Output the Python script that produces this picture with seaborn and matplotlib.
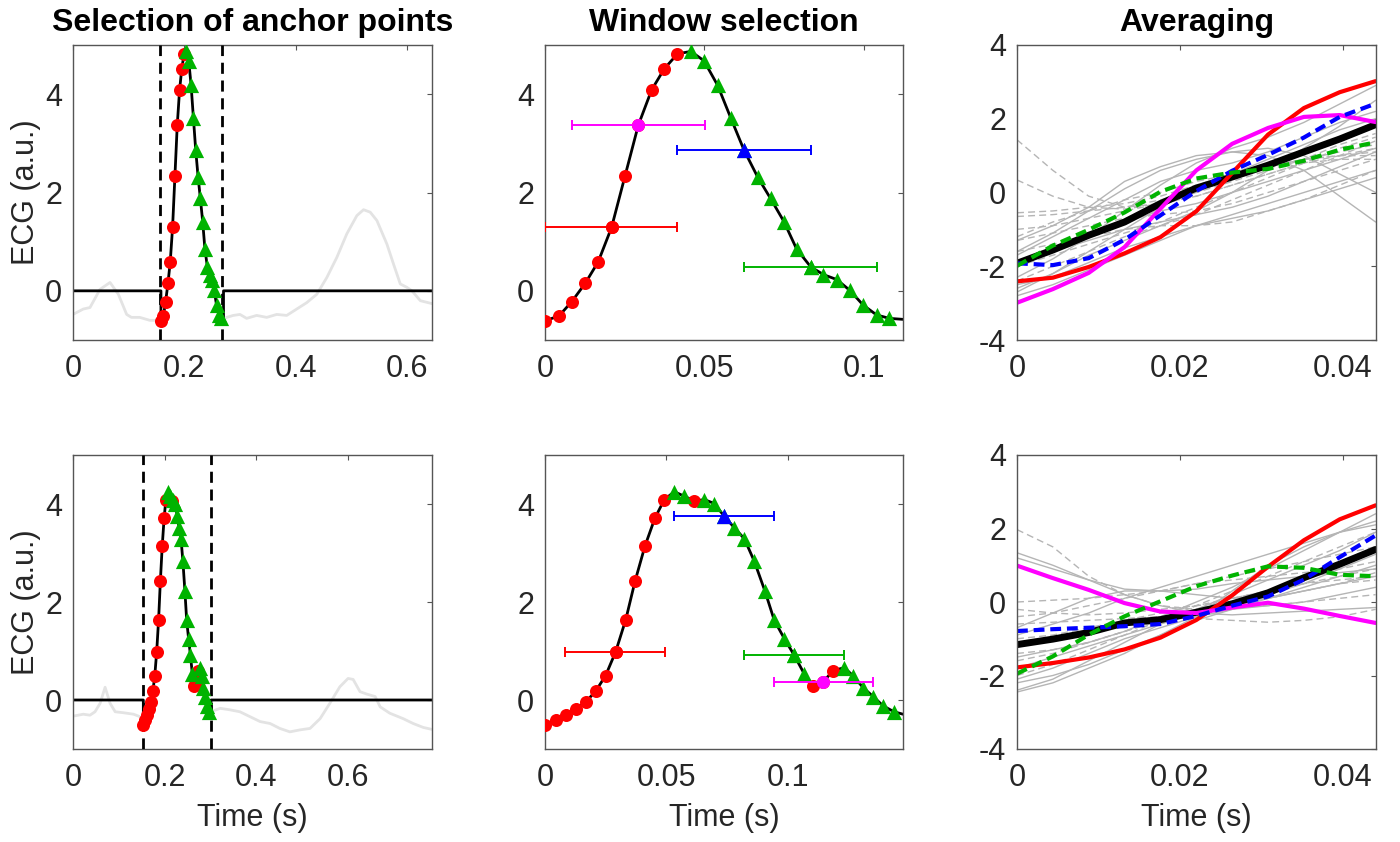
import matplotlib
matplotlib.use("Agg")
import matplotlib.pyplot as plt
import seaborn as sns
import pandas as pd

# ---------------------------------------------------------------- data
# Beat 1 (top row): QRS segment samples, time from segment onset (s)
top_t = [0.0, 0.0044, 0.0084, 0.0126, 0.0167, 0.0209, 0.0251, 0.0293, 0.0335, 0.0375, 0.0416,
         0.0458, 0.0499, 0.0542, 0.0583, 0.0625, 0.0668, 0.0708, 0.0750, 0.0790, 0.0834,
         0.0874, 0.0916, 0.0957, 0.0999, 0.1041, 0.1081, 0.1124]
top_v = [-0.61, -0.51, -0.22, 0.15, 0.59, 1.29, 2.33, 3.37, 4.09, 4.52, 4.82,
         4.87, 4.68, 4.18, 3.52, 2.86, 2.31, 1.88, 1.41, 0.85, 0.49,
         0.33, 0.23, 0.01, -0.29, -0.49, -0.56, -0.58]
top_kind = ["c"] * 11 + ["t"] * 16 + ["-"]
top_onset = 0.158
top_bounds = [0.157, 0.268]
# highlighted anchor points: sample index, colour, window start / end
top_hl_idx = [5, 7, 15, 20]
top_hl_col = ["red", "magenta", "blue", "green"]
top_hl_lo = [0.0, 0.0084, 0.0416, 0.0625]
top_hl_hi = [0.0416, 0.0502, 0.0835, 0.1043]
# full beat (light grey), before and after the QRS window
top_bg_pre_t = [0.0, 0.0185, 0.0305, 0.0485, 0.0665, 0.0815, 0.0964, 0.105, 0.120, 0.138, 0.153, 0.158]
top_bg_pre_v = [-0.48, -0.37, -0.34, 0.03, 0.17, -0.07, -0.48, -0.54, -0.54, -0.60, -0.60, -0.61]
top_bg_post_t = [0.270, 0.276, 0.288, 0.300, 0.312, 0.330, 0.348, 0.366, 0.384, 0.402, 0.420, 0.438,
                 0.456, 0.474, 0.492, 0.510, 0.522, 0.534, 0.546, 0.564, 0.576, 0.588, 0.600,
                 0.609, 0.624, 0.645]
top_bg_post_v = [-0.58, -0.54, -0.50, -0.48, -0.56, -0.50, -0.54, -0.48, -0.50, -0.37, -0.24, -0.07,
                 0.27, 0.68, 1.16, 1.53, 1.65, 1.60, 1.43, 0.95, 0.54, 0.14, 0.07,
                 0.0, -0.20, -0.26]

# Beat 2 (bottom row)
bot_t = [0.0, 0.0044, 0.0085, 0.0126, 0.0168, 0.0209, 0.0250, 0.0291, 0.0333, 0.0371, 0.0412, 0.0453, 0.0492,
         0.0533, 0.0574, 0.0616, 0.0657, 0.0698, 0.0739, 0.0780, 0.0822, 0.0863, 0.0907, 0.0945, 0.0987,
         0.1028, 0.1068, 0.1106, 0.1147, 0.1188, 0.1234, 0.1271, 0.1312, 0.1353, 0.1394, 0.1439, 0.1476]
bot_v = [-0.51, -0.41, -0.31, -0.19, -0.04, 0.18, 0.50, 0.98, 1.64, 2.42, 3.14, 3.71, 4.09,
         4.25, 4.16, 4.06, 4.09, 4.01, 3.75, 3.52, 3.29, 2.83, 2.22, 1.63, 1.25,
         0.91, 0.54, 0.28, 0.37, 0.60, 0.66, 0.49, 0.25, 0.07, -0.12, -0.24, -0.29]
bot_kind = (["c"] * 13 + ["t", "t", "c"] + ["t"] * 11 + ["c", "c", "c"] + ["t"] * 6 + ["-"])
bot_onset = 0.1534
bot_bounds = [0.1534, 0.3003]
bot_hl_idx = [7, 18, 25, 28]
bot_hl_col = ["red", "blue", "green", "magenta"]
bot_hl_lo = [0.0082, 0.0533, 0.0820, 0.0945]
bot_hl_hi = [0.0495, 0.0945, 0.1233, 0.1353]
bot_bg_pre_t = [0.0, 0.0225, 0.037, 0.048, 0.059, 0.070, 0.081, 0.092, 0.110, 0.132, 0.146, 0.1534]
bot_bg_pre_v = [-0.33, -0.29, -0.31, -0.24, -0.07, 0.26, -0.07, -0.24, -0.26, -0.29, -0.34, -0.51]
bot_bg_post_t = [0.301, 0.306, 0.321, 0.342, 0.364, 0.386, 0.408, 0.430, 0.451, 0.473, 0.495, 0.517,
                 0.539, 0.560, 0.582, 0.600, 0.611, 0.626, 0.641, 0.659, 0.670, 0.691, 0.720,
                 0.742, 0.764, 0.783]
bot_bg_post_v = [-0.29, -0.22, -0.17, -0.20, -0.24, -0.34, -0.44, -0.48, -0.58, -0.65, -0.61, -0.58,
                 -0.38, -0.07, 0.27, 0.44, 0.42, 0.17, 0.12, 0.07, -0.14, -0.27, -0.38,
                 -0.48, -0.56, -0.60]

# Averaging panels: 11-sample windows (mean removed)
avg_t = [0.0, 0.0044, 0.0088, 0.0132, 0.0176, 0.0220, 0.0264, 0.0308, 0.0352, 0.0396, 0.0440]

top_red = [-2.41, -2.31, -2.02, -1.65, -1.21, -0.51, 0.53, 1.57, 2.29, 2.72, 3.02]
top_magenta = [-2.99, -2.62, -2.18, -1.48, -0.44, 0.60, 1.32, 1.75, 2.05, 2.10, 1.91]
top_blue = [-1.92, -1.97, -1.78, -1.28, -0.62, 0.04, 0.59, 1.02, 1.49, 2.05, 2.41]
top_green = [-1.99, -1.44, -1.01, -0.54, 0.02, 0.38, 0.54, 0.64, 0.86, 1.16, 1.36]
top_mean = [-1.92, -1.56, -1.16, -0.80, -0.30, 0.12, 0.42, 0.74, 1.10, 1.45, 1.84]
top_grey_solid = [
    [-2.8, -2.5, -2.1, -1.7, -1.3, -0.9, -0.6, -0.3, 0.0, 0.3, 0.6],
    [-2.6, -2.2, -1.6, -1.0, -0.4, 0.1, 0.5, 0.9, 1.3, 1.7, 2.0],
    [-2.3, -1.8, -1.2, -0.5, 0.2, 0.8, 1.2, 1.5, 1.9, 2.4, 2.9],
    [-1.9, -1.5, -1.1, -0.8, -0.5, -0.3, 0.0, 0.3, 0.6, 0.9, 1.2],
    [-1.6, -1.1, -0.5, 0.1, 0.6, 0.9, 1.1, 1.2, 1.0, 0.5, 0.0],
    [-1.3, -0.9, -0.4, 0.3, 0.7, 1.0, 1.1, 1.0, 0.6, -0.1, -0.8],
    [-2.5, -2.3, -1.9, -1.5, -1.2, -0.9, -0.7, -0.5, -0.2, 0.1, 0.4],
    [-2.0, -1.6, -1.3, -1.0, -0.8, -0.6, -0.4, -0.1, 0.3, 0.7, 1.1],
    [-2.7, -2.2, -1.7, -1.3, -0.9, -0.5, 0.0, 0.6, 1.2, 1.8, 2.5],
    [-1.7, -1.2, -0.7, -0.2, 0.3, 0.6, 0.8, 1.1, 1.5, 1.9, 2.2],
]
top_grey_dashed = [
    [1.43, 0.6, -0.1, -0.4, -0.3, -0.1, 0.2, 0.5, 0.8, 1.0, 1.2],
    [0.34, -0.1, -0.4, -0.45, -0.3, 0.0, 0.4, 0.7, 0.9, 1.0, 1.0],
    [-0.55, -0.5, -0.4, -0.3, -0.1, 0.2, 0.5, 0.7, 0.9, 1.1, 1.3],
    [-0.65, -0.6, -0.5, -0.4, -0.2, 0.0, 0.3, 0.6, 0.9, 1.3, 1.6],
    [-1.0, -0.9, -0.7, -0.5, -0.3, -0.1, 0.2, 0.5, 0.8, 0.9, 0.9],
    [-1.3, -1.1, -0.9, -0.7, -0.6, -0.5, -0.3, 0.0, 0.3, 0.6, 0.9],
    [-1.6, -1.4, -1.2, -1.0, -0.9, -0.9, -0.8, -0.5, -0.2, 0.2, 0.6],
    [-2.0, -1.7, -1.4, -1.1, -0.8, -0.4, 0.0, 0.4, 0.8, 1.2, 1.5],
    [-1.2, -0.8, -0.5, -0.2, 0.0, 0.3, 0.5, 0.7, 0.9, 1.0, 1.1],
    [-2.4, -2.0, -1.6, -1.2, -0.9, -0.6, -0.2, 0.2, 0.6, 1.0, 1.4],
]

bot_red = [-1.78, -1.66, -1.51, -1.29, -0.97, -0.49, 0.18, 0.96, 1.68, 2.25, 2.63]
bot_magenta = [0.99, 0.65, 0.33, -0.03, -0.26, -0.30, -0.15, -0.02, -0.18, -0.38, -0.57]
bot_blue = [-0.79, -0.74, -0.70, -0.66, -0.60, -0.38, -0.10, 0.15, 0.61, 1.22, 1.81]
bot_green = [-1.95, -1.48, -0.89, -0.39, 0.02, 0.43, 0.72, 0.97, 0.93, 0.74, 0.70]
bot_mean = [-1.16, -1.01, -0.83, -0.57, -0.48, -0.28, -0.05, 0.25, 0.66, 1.03, 1.43]
bot_grey_solid = [
    [1.34, 1.0, 0.6, 0.2, -0.1, -0.3, -0.35, -0.3, -0.25, -0.2, -0.15],
    [1.2, 0.9, 0.6, 0.35, 0.3, 0.35, 0.5, 0.6, 0.7, 0.8, 0.9],
    [-0.9, -0.6, -0.3, 0.1, 0.4, 0.7, 1.0, 1.3, 1.6, 1.9, 2.1],
    [-1.5, -1.3, -1.1, -0.8, -0.4, 0.0, 0.4, 0.9, 1.4, 1.9, 2.4],
    [-2.4, -2.1, -1.6, -1.1, -0.6, -0.2, 0.2, 0.6, 1.0, 1.4, 1.9],
    [-2.45, -2.2, -1.8, -1.4, -0.9, -0.5, -0.2, 0.1, 0.4, 0.7, 1.0],
    [-1.8, -1.5, -1.2, -0.9, -0.6, -0.3, -0.1, 0.1, 0.3, 0.5, 0.7],
    [-2.1, -1.8, -1.4, -1.0, -0.7, -0.4, -0.2, -0.1, 0.0, 0.2, 0.4],
    [-0.7, -0.3, 0.1, 0.3, 0.3, 0.2, 0.1, 0.2, 0.5, 0.9, 1.3],
    [-2.2, -2.0, -1.7, -1.3, -0.9, -0.4, 0.3, 1.0, 1.5, 1.9, 2.2],
]
bot_grey_dashed = [
    [1.97, 1.5, 0.7, 0.2, -0.1, -0.2, -0.15, -0.1, 0.0, 0.1, 0.2],
    [0.0, 0.05, 0.1, 0.2, 0.3, 0.5, 0.7, 0.9, 1.1, 1.3, 1.5],
    [-0.2, -0.3, -0.35, -0.3, -0.2, -0.1, 0.0, 0.1, 0.3, 0.5, 0.8],
    [-0.6, -0.55, -0.5, -0.45, -0.4, -0.45, -0.5, -0.55, -0.5, -0.4, -0.2],
    [-1.2, -1.0, -0.8, -0.6, -0.4, -0.2, 0.0, 0.3, 0.6, 1.0, 1.4],
    [-1.6, -1.4, -1.1, -0.8, -0.5, -0.3, -0.1, 0.1, 0.3, 0.5, 0.6],
    [-2.0, -1.7, -1.3, -0.9, -0.5, -0.1, 0.3, 0.7, 1.1, 1.5, 1.9],
    [-1.0, -0.9, -0.7, -0.5, -0.3, -0.1, 0.1, 0.3, 0.5, 0.6, 0.7],
    [-1.4, -1.3, -1.1, -0.8, -0.5, -0.2, 0.1, 0.3, 0.5, 0.7, 0.9],
    [-0.4, -0.3, -0.1, 0.1, 0.3, 0.5, 0.6, 0.7, 0.8, 0.9, 1.1],
]

titles = ["Selection of anchor points", "Window selection", "Averaging"]
ylabel = "ECG (a.u.)"
xlabel = "Time (s)"

# ---------------------------------------------------------------- style
sns.set_theme(style="white")
plt.rcParams["font.family"] = ["Liberation Sans", "DejaVu Sans"]
plt.rcParams["axes.unicode_minus"] = False
TXT = "#262626"
AX = "#555555"
GREEN = "#00b300"
COLS = {"red": "#ff0000", "magenta": "#ff00ff", "blue": "#0000ff", "green": GREEN}
FS = 22
S_CIRC = 88
S_TRI = 120

fig = plt.figure(figsize=(14, 8.42), dpi=100)
lefts = [73 / 1400, 545 / 1400, 1017 / 1400]
widths = [359 / 1400, 358 / 1400, 359 / 1400]
bottoms = [1 - 340 / 842, 1 - 749 / 842]
heights = [295 / 842, 294 / 842]
axes = [[fig.add_axes([lefts[c], bottoms[r], widths[c], heights[r]]) for c in range(3)] for r in range(2)]


def style_axes(ax):
    for s in ax.spines.values():
        s.set_visible(True)
        s.set_color(AX)
        s.set_linewidth(1.0)
    ax.tick_params(direction="in", length=3.6, width=0.8, color=AX, top=True, right=True,
                   labelsize=FS, labelcolor=TXT)
    ax.tick_params(axis="x", pad=10)
    ax.tick_params(axis="y", pad=8)
    ax.set_xlabel("")
    ax.set_ylabel("")


def line(ax, x, y, **kw):
    sns.lineplot(x=list(x), y=list(y), ax=ax, sort=False, estimator=None, **kw)


def markers(ax, t, v, kinds, offset, kind):
    xs = [offset + ti for ti, k in zip(t, kinds) if k == kind]
    ys = [vi for vi, k in zip(v, kinds) if k == kind]
    if kind == "c":
        sns.scatterplot(x=xs, y=ys, ax=ax, marker="o", s=S_CIRC, color=COLS["red"], linewidth=0, zorder=4)
    else:
        sns.scatterplot(x=xs, y=ys, ax=ax, marker="^", s=S_TRI, color=GREEN, linewidth=0, zorder=4)


def overview(ax, pre_t, pre_v, post_t, post_v, onset, t, v, kinds, bounds, xmax):
    line(ax, pre_t, pre_v, color="#e3e3e3", linewidth=2.0)
    line(ax, post_t, post_v, color="#e3e3e3", linewidth=2.0)
    bx = [0.0, onset] + [onset + ti for ti in t] + [onset + t[-1], xmax]
    by = [0.0, 0.0] + list(v) + [0.0, 0.0]
    line(ax, bx, by, color="black", linewidth=2.0)
    for b in bounds:
        ax.axvline(b, color="black", linewidth=2.0, linestyle=(0, (4.0, 2.4)), zorder=3)
    markers(ax, t, v, kinds, onset, "c")
    markers(ax, t, v, kinds, onset, "t")
    ax.set_xlim(0, xmax)
    ax.set_ylim(-1, 5)
    ax.set_xticks([0, 0.2, 0.4, 0.6])
    ax.set_xticklabels(["0", "0.2", "0.4", "0.6"])
    ax.set_yticks([0, 2, 4])


def window(ax, t, v, kinds, hl_idx, hl_col, hl_lo, hl_hi, xticks, xticklabels):
    line(ax, t, v, color="black", linewidth=2.0)
    markers(ax, t, v, kinds, 0.0, "c")
    markers(ax, t, v, kinds, 0.0, "t")
    for i, c, lo, hi in zip(hl_idx, hl_col, hl_lo, hl_hi):
        col = COLS[c]
        ax.errorbar([t[i]], [v[i]], xerr=[[t[i] - lo], [hi - t[i]]], fmt="none", ecolor=col,
                    elinewidth=1.4, capsize=3.5, capthick=1.4, zorder=5)
        mk = "o" if kinds[i] == "c" else "^"
        sns.scatterplot(x=[t[i]], y=[v[i]], ax=ax, marker=mk, s=S_CIRC if mk == "o" else S_TRI,
                        color=col, linewidth=0, zorder=6)
    ax.set_xlim(0, t[-1])
    ax.set_ylim(-1, 5)
    ax.set_xticks(xticks)
    ax.set_xticklabels(xticklabels)
    ax.set_yticks([0, 2, 4])


def averaging(ax, solid, dashed, red, magenta, blue, green, mean):
    for g in solid:
        line(ax, avg_t, g, color="#b5b5b5", linewidth=1.0)
    for g in dashed:
        line(ax, avg_t, g, color="#b5b5b5", linewidth=1.0, linestyle=(0, (5, 3)))
    line(ax, avg_t, mean, color="black", linewidth=5.0)
    line(ax, avg_t, red, color=COLS["red"], linewidth=3.0)
    line(ax, avg_t, magenta, color=COLS["magenta"], linewidth=3.0)
    line(ax, avg_t, blue, color=COLS["blue"], linewidth=3.0, linestyle=(0, (2.6, 1.4)))
    line(ax, avg_t, green, color=GREEN, linewidth=3.0, linestyle=(0, (2.6, 1.4)))
    ax.set_xlim(0, 0.04405)
    ax.set_ylim(-4, 4)
    ax.set_xticks([0, 0.02, 0.04])
    ax.set_xticklabels(["0", "0.02", "0.04"])
    ax.set_yticks([-4, -2, 0, 2, 4])


overview(axes[0][0], top_bg_pre_t, top_bg_pre_v, top_bg_post_t, top_bg_post_v,
         top_onset, top_t, top_v, top_kind, top_bounds, 0.645)
overview(axes[1][0], bot_bg_pre_t, bot_bg_pre_v, bot_bg_post_t, bot_bg_post_v,
         bot_onset, bot_t, bot_v, bot_kind, bot_bounds, 0.783)
window(axes[0][1], top_t, top_v, top_kind, top_hl_idx, top_hl_col, top_hl_lo, top_hl_hi,
       [0, 0.05, 0.1], ["0", "0.05", "0.1"])
window(axes[1][1], bot_t, bot_v, bot_kind, bot_hl_idx, bot_hl_col, bot_hl_lo, bot_hl_hi,
       [0, 0.05, 0.1], ["0", "0.05", "0.1"])
averaging(axes[0][2], top_grey_solid, top_grey_dashed, top_red, top_magenta, top_blue, top_green, top_mean)
averaging(axes[1][2], bot_grey_solid, bot_grey_dashed, bot_red, bot_magenta, bot_blue, bot_green, bot_mean)

for r in range(2):
    for c in range(3):
        ax = axes[r][c]
        style_axes(ax)
        if r == 0:
            ax.set_title(titles[c], fontsize=23, fontweight="bold", color="black", pad=10)
        if c == 0:
            ax.set_ylabel(ylabel, fontsize=FS, color=TXT)
            ax.yaxis.set_label_coords(-0.088, 0.5)
        if r == 1:
            ax.set_xlabel(xlabel, fontsize=FS, color=TXT)
            ax.xaxis.set_label_coords(0.5, -0.185)

fig.savefig("out.png", dpi=100, facecolor="white")
